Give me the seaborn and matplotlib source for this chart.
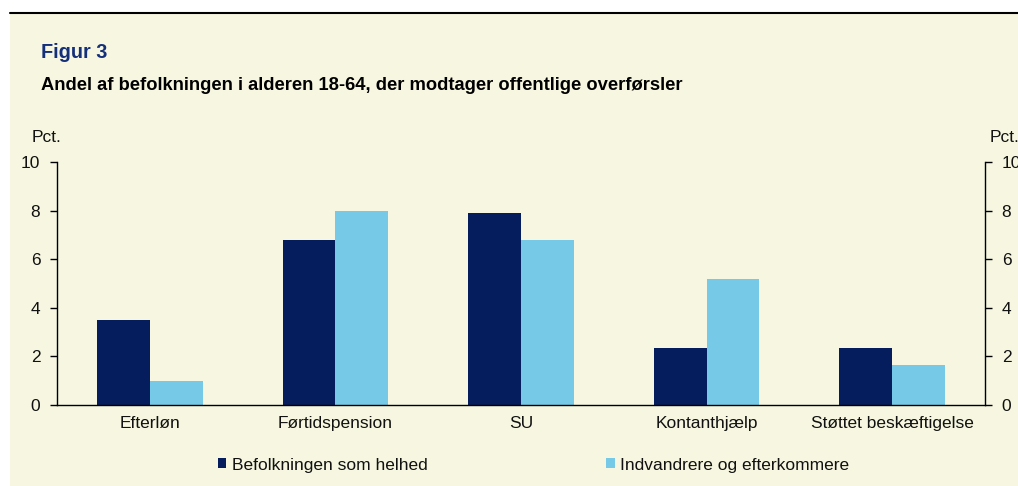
import numpy as np
import pandas as pd
import seaborn as sb
import matplotlib.pyplot as plt
from matplotlib.lines import Line2D
from matplotlib.patches import Rectangle

categories = ['Efterløn', 'Førtidspension', 'SU', 'Kontanthjælp', 'Støttet beskæftigelse']
series_names = ['Befolkningen som helhed', 'Indvandrere og efterkommere']
befolkning = [3.5, 6.8, 7.9, 2.35, 2.35]
indvandrere = [1.0, 8.0, 6.8, 5.2, 1.65]
yticks = [0, 2, 4, 6, 8, 10]

dark = '#051d5c'
light = '#76c9e7'
bg = '#f7f7e1'
fs = 12.5

df = pd.DataFrame({
    'kategori': categories * 2,
    'serie': [series_names[0]] * 5 + [series_names[1]] * 5,
    'pct': befolkning + indvandrere,
})

sb.set_style('white')
plt.rcParams['font.family'] = ['Liberation Sans', 'DejaVu Sans']

fig = plt.figure(figsize=(10.18, 4.86), dpi=100)
fig.patch.set_facecolor('white')
# beige panel and top rule
fig.patches.append(Rectangle((10 / 1018, 0), 1 - 10 / 1018, 1 - 14 / 486,
                             transform=fig.transFigure, facecolor=bg, edgecolor='none', zorder=-10))
fig.lines.append(Line2D([10 / 1018, 1], [1 - 13.5 / 486] * 2, transform=fig.transFigure,
                        color='black', lw=1.5))

ax = fig.add_axes([57 / 1018, 1 - 405 / 486, (985 - 57) / 1018, (405 - 162) / 486])
ax.set_facecolor(bg)
sb.barplot(data=df, x='kategori', y='pct', hue='serie', palette=[dark, light],
           width=0.57, ax=ax, saturation=1, edgecolor='none', legend=False)

ax.set_xlim(-0.5, 4.5)
ax.set_ylim(0, 10)
ax.set_yticks(yticks)
ax.set_xlabel('')
ax.set_ylabel('')
ax.set_xticks(np.arange(5))
ax.set_xticklabels(categories, fontsize=fs, color='#111111')
ax.tick_params(axis='x', length=0, pad=8)
ax.set_xticks(np.arange(-0.5, 5, 1), minor=True)
ax.tick_params(axis='x', which='minor', length=6, width=1, color='black', direction='out')
ax.tick_params(axis='y', length=5, width=1, direction='out', labelsize=fs, pad=7,
               left=True, color='black', labelcolor='#111111')
for s in ['left', 'bottom', 'right']:
    ax.spines[s].set_visible(True)
    ax.spines[s].set_color('black')
    ax.spines[s].set_linewidth(1)
ax.spines['top'].set_visible(False)

ax2 = ax.twinx()
ax2.set_ylim(0, 10)
ax2.set_yticks(yticks)
ax2.tick_params(axis='y', length=5, width=1, direction='out', labelsize=fs, pad=7,
                right=True, color='black', labelcolor='#111111')
for s in ax2.spines.values():
    s.set_visible(False)

fig.text(41 / 1018, 1 - 52 / 486, 'Figur 3', fontsize=14.3, fontweight='bold',
         color='#14307a', va='center')
fig.text(41 / 1018, 1 - 86 / 486, 'Andel af befolkningen i alderen 18-64, der modtager offentlige overførsler',
         fontsize=13.2, fontweight='bold', color='black', va='center')
fig.text(32 / 1018, 1 - 138 / 486, 'Pct.', fontsize=fs, color='#111111', va='center')
fig.text(990 / 1018, 1 - 138 / 486, 'Pct.', fontsize=fs, color='#111111', va='center')

handles = [Rectangle((0, 0), 1, 1, facecolor=c, edgecolor='none') for c in [dark, light]]
fig.legend(handles, series_names, loc='center left', bbox_to_anchor=(202 / 1018, 1 - 465 / 486),
           ncol=2, frameon=False, fontsize=fs, handlelength=0.5, handleheight=0.5,
           handletextpad=0.3, columnspacing=10.3, labelcolor='#111111')

fig.savefig('out.png', dpi=100, facecolor=fig.get_facecolor())
